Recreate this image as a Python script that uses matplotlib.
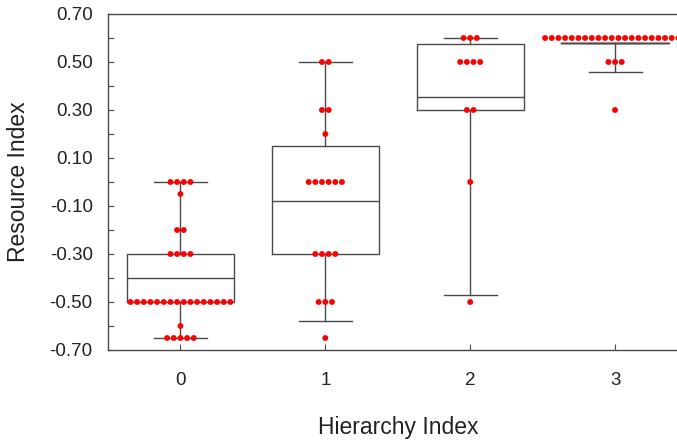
import numpy as np
import matplotlib
matplotlib.use("Agg")
import matplotlib.pyplot as plt
from matplotlib.ticker import FixedLocator

plt.rcParams['font.family'] = ['Liberation Sans', 'DejaVu Sans']

# ---- data ----
groups = [0, 1, 2, 3]
# dot values (value, count) per group
dot_values = [
    [0.00, -0.05, -0.20, -0.30, -0.50, -0.60, -0.65],
    [0.50, 0.30, 0.20, 0.00, -0.30, -0.50, -0.65],
    [0.60, 0.50, 0.30, 0.00, -0.50],
    [0.60, 0.50, 0.30],
]
dot_counts = [
    [4, 1, 2, 4, 16, 1, 5],
    [2, 2, 1, 6, 4, 3, 1],
    [3, 4, 2, 1, 1],
    [22, 3, 1],
]
# box statistics
medians = [-0.40, -0.08, 0.355, 0.58]
q1s = [-0.50, -0.30, 0.30, 0.58]
q3s = [-0.30, 0.15, 0.575, 0.58]
whis_lo = [-0.65, -0.58, -0.47, 0.46]
whis_hi = [0.00, 0.50, 0.60, 0.58]
y_tick_labels = ['0.70', '0.50', '0.30', '0.10', '-0.10', '-0.30', '-0.50', '-0.70']

fig = plt.figure(figsize=(6.77, 4.40), dpi=100)
ax = fig.add_axes([108/677, 1-350/440, (687.5-108)/677, (350-14)/440])

stats = []
for g in range(len(groups)):
    stats.append(dict(med=medians[g], q1=q1s[g], q3=q3s[g],
                      whislo=whis_lo[g], whishi=whis_hi[g], fliers=[]))
lc = '#4a4a4a'
ax.bxp(stats, positions=groups, widths=0.74, showfliers=False,
       boxprops=dict(color=lc, linewidth=1.0),
       whiskerprops=dict(color=lc, linewidth=1.0),
       capprops=dict(color=lc, linewidth=1.0),
       medianprops=dict(color=lc, linewidth=1.0),
       capwidths=0.365, manage_ticks=False)

spacing = 0.046
for g, vals, cnts in zip(groups, dot_values, dot_counts):
    xs, ys = [], []
    for v, c in zip(vals, cnts):
        offs = (np.arange(c) - (c - 1) / 2) * spacing
        xs.extend(g + offs)
        ys.extend([v] * c)
    ax.scatter(xs, ys, s=18, color='#ff0000', edgecolors='none', zorder=5)

ax.set_xlim(-0.5, 3.5)
ax.set_ylim(-0.70, 0.70)
ax.set_xticks(groups)
ax.set_xticklabels([str(g) for g in groups])
yt = [float(t) for t in y_tick_labels]
ax.set_yticks(yt)
ax.set_yticklabels(y_tick_labels)
ax.yaxis.set_minor_locator(FixedLocator([0.6, 0.4, 0.2, 0.0, -0.2, -0.4, -0.6]))

ax.tick_params(axis='both', which='both', direction='in', length=4, width=0.8,
               color=lc, labelsize=13.5, labelcolor='#222222')
ax.tick_params(axis='y', which='major', pad=11)
ax.tick_params(axis='x', which='major', pad=16)
for sp in ax.spines.values():
    sp.set_color(lc)
    sp.set_linewidth(1.0)

ax.set_xlabel('Hierarchy Index', fontsize=16.5, color='#222222', labelpad=19)
ax.set_ylabel('Resource Index', fontsize=16.5, color='#222222', labelpad=14)

fig.savefig('out.png', dpi=100)
